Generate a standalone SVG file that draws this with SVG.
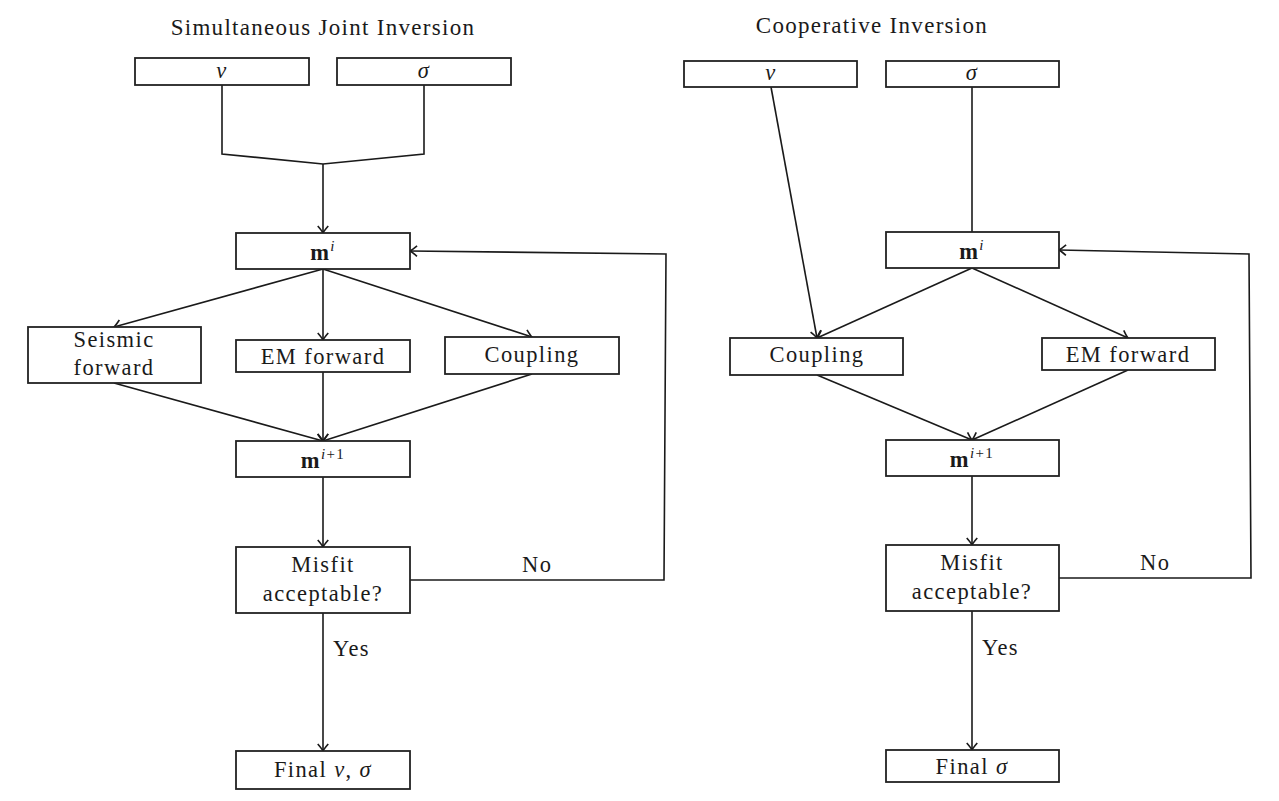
<svg xmlns="http://www.w3.org/2000/svg" width="1279" height="801" viewBox="0 0 1279 801">
<style>
.box{fill:#fff;stroke:#222;stroke-width:1.8}
.t{font-family:"Liberation Serif","DejaVu Serif",serif;font-size:22.5px;fill:#1a1a1a;text-anchor:middle;letter-spacing:1.4px}
.ttl{font-family:"Liberation Serif","DejaVu Serif",serif;font-size:23px;fill:#1a1a1a;text-anchor:middle;letter-spacing:1.3px}
.lbl{font-family:"Liberation Serif","DejaVu Serif",serif;font-size:22.5px;fill:#1a1a1a;letter-spacing:1.4px}
.i{font-style:italic}
.b{font-weight:bold}
.c{fill:none;stroke:#1a1a1a;stroke-width:1.6}
</style>
<defs>
<marker id="ah" markerUnits="userSpaceOnUse" markerWidth="14" markerHeight="14" viewBox="-8 -6 10 12" refX="0" refY="0" orient="auto">
<path d="M -6 -4.5 Q -2 -1 0 0 Q -2 1 -6 4.5" fill="none" stroke="#1a1a1a" stroke-width="1.4"/>
</marker>
</defs>
<rect width="1279" height="801" fill="#fff"/>

<text class="ttl" x="323" y="35">Simultaneous Joint Inversion</text>
<text class="ttl" x="872" y="33">Cooperative Inversion</text>

<g id="connectors">
<!-- left -->
<path class="c" d="M222 85 V154 L323 164 M424 85 V154 L323 164"/>
<path class="c" d="M323 164 V233" marker-end="url(#ah)"/>
<path class="c" d="M323 269 L114 327" marker-end="url(#ah)"/>
<path class="c" d="M323 269 V340" marker-end="url(#ah)"/>
<path class="c" d="M323 269 L532 337" marker-end="url(#ah)"/>
<path class="c" d="M114 383 L323 441" marker-end="url(#ah)"/>
<path class="c" d="M323 372 V441" marker-end="url(#ah)"/>
<path class="c" d="M532 374 L323 441" marker-end="url(#ah)"/>
<path class="c" d="M323 477 V547" marker-end="url(#ah)"/>
<path class="c" d="M323 613 V751" marker-end="url(#ah)"/>
<path class="c" d="M410 580 H664 L666 254 L410 251" marker-end="url(#ah)"/>
<!-- right -->
<path class="c" d="M972 87 V232"/>
<path class="c" d="M771 87 L817 338" marker-end="url(#ah)"/>
<path class="c" d="M972 268 L817 338" marker-end="url(#ah)"/>
<path class="c" d="M972 268 L1128 338" marker-end="url(#ah)"/>
<path class="c" d="M817 375 L972 440" marker-end="url(#ah)"/>
<path class="c" d="M1128 370 L972 440" marker-end="url(#ah)"/>
<path class="c" d="M972 476 V545" marker-end="url(#ah)"/>
<path class="c" d="M972 611 V750" marker-end="url(#ah)"/>
<path class="c" d="M1059 578 H1251 L1249 254 L1059 250" marker-end="url(#ah)"/>
</g>

<g id="labels">
<text class="lbl" x="522" y="572">No</text>
<text class="lbl" x="333" y="656">Yes</text>
<text class="lbl" x="1140" y="570">No</text>
<text class="lbl" x="982" y="655">Yes</text>
</g>

<g id="sji-v"><rect class="box" x="135" y="58" width="174" height="27"/><text class="t i" x="222" y="78">v</text></g>
<g id="sji-sigma"><rect class="box" x="337" y="58" width="174" height="27"/><text class="t i" x="424" y="78">σ</text></g>
<g id="sji-mi"><rect class="box" x="236" y="233" width="174" height="36"/><text class="t" x="323" y="260"><tspan class="b">m</tspan><tspan class="i" font-size="15" dy="-9">i</tspan></text></g>
<g id="sji-seismic"><rect class="box" x="28" y="327" width="173" height="56"/><text class="t" x="114" y="347">Seismic</text><text class="t" x="114" y="375">forward</text></g>
<g id="sji-em"><rect class="box" x="236" y="340" width="174" height="32"/><text class="t" x="323" y="364">EM forward</text></g>
<g id="sji-coupling"><rect class="box" x="445" y="337" width="174" height="37"/><text class="t" x="532" y="362">Coupling</text></g>
<g id="sji-mi1"><rect class="box" x="236" y="441" width="174" height="36"/><text class="t" x="323" y="468"><tspan class="b">m</tspan><tspan font-size="15" dy="-9"><tspan class="i">i</tspan>+1</tspan></text></g>
<g id="sji-misfit"><rect class="box" x="236" y="547" width="174" height="66"/><text class="t" x="323" y="572">Misfit</text><text class="t" x="323" y="601">acceptable?</text></g>
<g id="sji-final"><rect class="box" x="236" y="751" width="174" height="38"/><text class="t" x="323" y="777">Final <tspan class="i">v</tspan>, <tspan class="i">σ</tspan></text></g>

<g id="ci-v"><rect class="box" x="684" y="61" width="173" height="26"/><text class="t i" x="771" y="80">v</text></g>
<g id="ci-sigma"><rect class="box" x="886" y="61" width="173" height="26"/><text class="t i" x="972" y="80">σ</text></g>
<g id="ci-mi"><rect class="box" x="886" y="232" width="173" height="36"/><text class="t" x="972" y="259"><tspan class="b">m</tspan><tspan class="i" font-size="15" dy="-9">i</tspan></text></g>
<g id="ci-coupling"><rect class="box" x="730" y="338" width="173" height="37"/><text class="t" x="817" y="362">Coupling</text></g>
<g id="ci-em"><rect class="box" x="1042" y="338" width="173" height="32"/><text class="t" x="1128" y="362">EM forward</text></g>
<g id="ci-mi1"><rect class="box" x="886" y="440" width="173" height="36"/><text class="t" x="972" y="467"><tspan class="b">m</tspan><tspan font-size="15" dy="-9"><tspan class="i">i</tspan>+1</tspan></text></g>
<g id="ci-misfit"><rect class="box" x="886" y="545" width="173" height="66"/><text class="t" x="972" y="570">Misfit</text><text class="t" x="972" y="599">acceptable?</text></g>
<g id="ci-final"><rect class="box" x="886" y="750" width="173" height="32"/><text class="t" x="972" y="774">Final <tspan class="i">σ</tspan></text></g>
</svg>
